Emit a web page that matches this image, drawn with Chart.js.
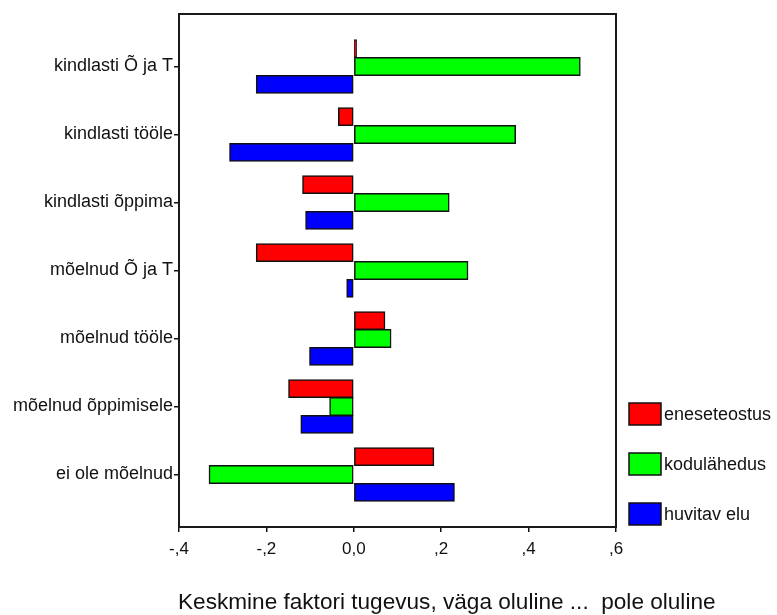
<!DOCTYPE html>
<html>
<head>
<meta charset="utf-8">
<script src="https://cdn.jsdelivr.net/npm/chart.js@4/dist/chart.umd.min.js"></script>
<style>
  html, body { margin: 0; padding: 0; background: #fff; }
  #wrap { width: 777px; height: 615px; position: relative; }
</style>
</head>
<body>
<div id="wrap"><canvas id="chart"></canvas></div>
<script>
// kategooriad (ülevalt alla)
const categories = [
  "kindlasti Õ ja T",
  "kindlasti tööle",
  "kindlasti õppima",
  "mõelnud Õ ja T",
  "mõelnud tööle",
  "mõelnud õppimisele",
  "ei ole mõelnud"
];

const seriesNames = ["eneseteostus", "kodulähedus", "huvitav elu"];
const eneseteostus = [0.006, -0.035, -0.117, -0.223, 0.071, -0.149, 0.183];
const kodulahedus  = [0.518, 0.370, 0.218, 0.261, 0.085, -0.055, -0.331];
const huvitavElu   = [-0.223, -0.284, -0.110, -0.016, -0.101, -0.121, 0.230];
const xTicks = [-0.4, -0.2, 0, 0.2, 0.4, 0.6];
const xTitle = "Keskmine faktori tugevus, väga oluline ...  pole oluline";

const FONT = "'Liberation Sans', Arial, sans-serif";
const colors = ["#ff0000", "#00ff00", "#0000ff"];

const toPoints = arr => arr.map((v, i) => ({ x: v, y: i }));

// SPSS stiilis komaga numbrid: -,4  0,0  ,2
function fmt(v) {
  if (Math.abs(v) < 1e-9) return "0,0";
  const s = Math.abs(v).toFixed(1).replace("0.", ",");
  return (v < 0 ? "-" : "") + s;
}

// raam ümber joonise ala
const framePlugin = {
  id: "frame",
  afterDatasetsDraw(chart) {
    const { ctx, chartArea: a } = chart;
    ctx.save();
    ctx.strokeStyle = "#1a1a1a";
    ctx.lineWidth = 2;
    ctx.strokeRect(a.left, a.top, a.right - a.left, a.bottom - a.top);
    ctx.restore();
  }
};

// legend paremal all + x-telje pealkiri (Chart.js surub telje pealkirja kokku)
const legendPlugin = {
  id: "sideLegend",
  afterDraw(chart) {
    const { ctx, chartArea: a } = chart;
    ctx.save();
    chart.data.datasets.forEach((ds, i) => {
      const x = 629, y = 403 + i * 50;
      ctx.fillStyle = ds.backgroundColor;
      ctx.fillRect(x, y, 32, 22);
      ctx.strokeStyle = "#111";
      ctx.lineWidth = 1.5;
      ctx.strokeRect(x, y, 32, 22);
      ctx.fillStyle = "#111";
      ctx.font = "18px " + FONT;
      ctx.textBaseline = "middle";
      ctx.fillText(ds.label, x + 35, y + 12);
    });
    ctx.font = "22.6px " + FONT;
    ctx.fillStyle = "#111";
    ctx.textBaseline = "middle";
    ctx.fillText(xTitle, a.left - 1, 603);
    ctx.restore();
  }
};

new Chart(document.getElementById("chart"), {
  type: "bar",
  data: {
    datasets: [eneseteostus, kodulahedus, huvitavElu].map((vals, i) => ({
      label: seriesNames[i],
      data: toPoints(vals),
      backgroundColor: colors[i],
      borderColor: "#111",
      borderWidth: 1.5,
      borderSkipped: false,
      inflateAmount: 0.5,
      categoryPercentage: 0.79,
      barPercentage: 1.0
    }))
  },
  options: {
    indexAxis: "y",
    responsive: true,
    maintainAspectRatio: false,
    animation: false,
    layout: { padding: { top: 14, right: 161, left: 0, bottom: 0 } },
    plugins: { legend: { display: false }, tooltip: { enabled: false } },
    scales: {
      x: {
        type: "linear",
        min: -0.4,
        max: 0.6,
        afterBuildTicks: s => { s.ticks = xTicks.map(v => ({ value: v })); },
        afterFit: s => { s.height = 88; },
        border: { display: false },
        grid: { drawOnChartArea: false, drawTicks: true, tickLength: 5, color: "#111", lineWidth: 1.5 },
        ticks: { padding: 7, color: "#111", font: { family: FONT, size: 17 }, callback: v => fmt(v), maxRotation: 0 }
      },
      y: {
        type: "linear",
        reverse: true,
        offset: false,
        min: -0.772,
        max: 6.772,
        afterBuildTicks: s => { s.ticks = categories.map((c, i) => ({ value: i })); },
        afterFit: s => { s.width = 179; },
        border: { display: false },
        grid: { offset: false, drawOnChartArea: false, drawTicks: true, tickLength: 5, color: "#111", lineWidth: 1.5 },
        ticks: { padding: 1, color: "#111", font: { family: FONT, size: 18 }, callback: v => categories[v] }
      }
    }
  },
  plugins: [framePlugin, legendPlugin]
});
</script>
</body>
</html>
